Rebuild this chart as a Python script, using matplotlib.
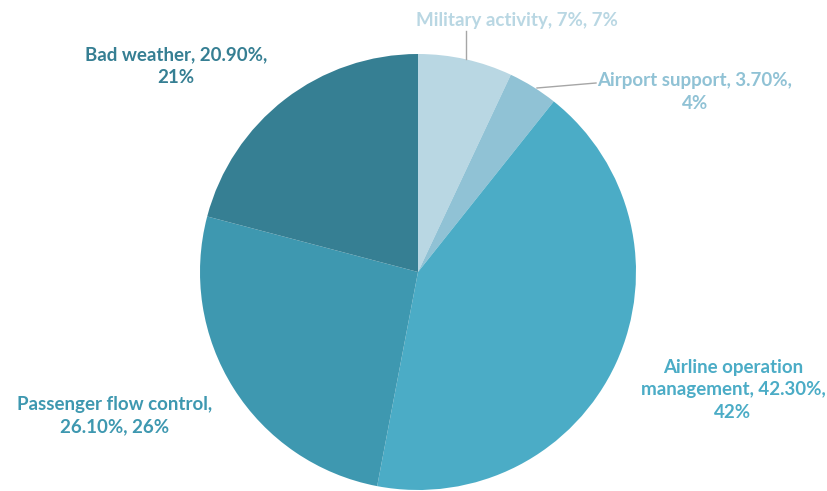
import matplotlib
matplotlib.use("Agg")
import matplotlib.pyplot as plt

# Causes of flight delays
causes = ["Military activity", "Airport support", "Airline operation\nmanagement",
          "Passenger flow control", "Bad weather"]
shares = [7.0, 3.7, 42.3, 26.1, 20.9]
colors = ["#B9D7E3", "#90C2D5", "#4BACC6", "#3E98B0", "#367F93"]
text_colors = ["#B9D7E3", "#90C2D5", "#4BACC6", "#3E98B0", "#367F93"]

# label texts (line breaks as in the chart)
labels = [
    f"{causes[0]}, {shares[0]:.0f}%, {round(shares[0]):.0f}%",
    f"{causes[1]}, {shares[1]:.2f}%,\n{round(shares[1]):.0f}%",
    f"{causes[2]}, {shares[2]:.2f}%,\n{round(shares[2]):.0f}%",
    f"Passenger flow control,\n{shares[3]:.2f}%, {round(shares[3]):.0f}%",
    f"{causes[4]}, {shares[4]:.2f}%,\n{round(shares[4]):.0f}%",
]
label_pos = [(517, 20), (695, 92), (733, 390), (115, 416), (176, 66)]

W, H = 827, 491
fig = plt.figure(figsize=(W / 100, H / 100), dpi=100)
ax = fig.add_axes([0, 0, 1, 1])

cx, cy, r = 418, H - 272, 218
ax.pie(shares, colors=colors, startangle=90, counterclock=False,
       center=(cx, cy), radius=r, frame=True,
       wedgeprops=dict(linewidth=0))
ax.set_xlim(0, W)
ax.set_ylim(0, H)
ax.axis("off")

for lab, (x, y), c in zip(labels, label_pos, text_colors):
    ax.text(x, H - y, lab, ha="center", va="center", color=c,
            fontsize=13.5, fontweight="bold", family="Lato", linespacing=1.38)

# leader lines
ax.plot([466, 466], [H - 31, H - 59], color="#A6A6A6", lw=1)
ax.plot([537, 596], [H - 88, H - 83], color="#A6A6A6", lw=1)

fig.savefig("out.png", dpi=100)
